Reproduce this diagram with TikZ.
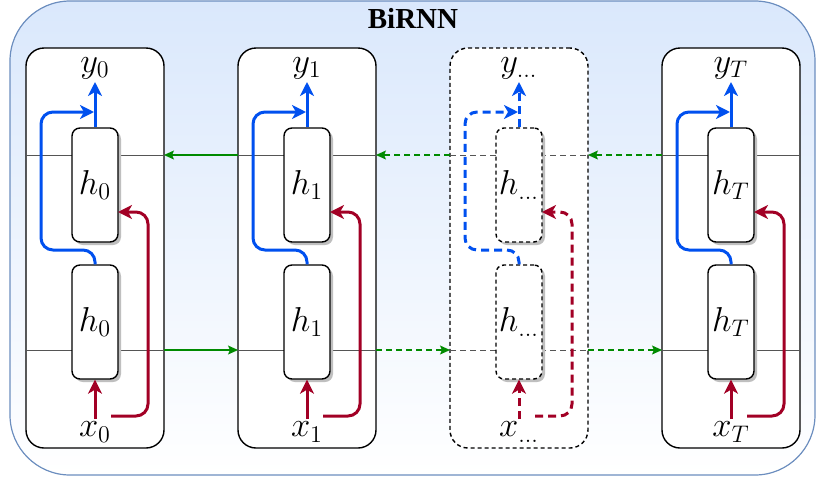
\documentclass[tikz,border=0pt]{standalone}
\usepackage{fontspec}
\newfontfamily\titlefont{Liberation Serif}
\usepackage{tikz}
\usetikzlibrary{positioning,arrows.meta,shadows}

\definecolor{frameblue}{HTML}{6C8EBF}
\definecolor{paleblue}{HTML}{DAE8FC}
\definecolor{outblue}{HTML}{0050EF}
\definecolor{inred}{HTML}{A20025}
\definecolor{timegreen}{HTML}{008A00}
\definecolor{wire}{HTML}{555555}

\begin{document}
\begin{tikzpicture}[x=0.5pt, y=-0.5pt,
	frame/.style={draw=frameblue, line width=0.6pt, rounded corners=30pt, top color=paleblue, bottom color=white},
	cellbox/.style={draw, line width=0.7pt, rounded corners=9pt, fill=white, minimum width=69pt, minimum height=200pt, inner sep=0pt},
	hbox/.style={draw, line width=0.7pt, rounded corners=4pt, fill=white, minimum width=23pt, minimum height=57pt, inner sep=0pt, font=\LARGE,
		drop shadow={shadow xshift=1.5pt, shadow yshift=-1.5pt, fill=black!25, opacity=1}},
	lbl/.style={font=\LARGE, inner sep=1pt},
	wireline/.style={draw=wire, line width=0.5pt},
	outflow/.style={draw=outblue, line width=1.5pt, rounded corners=6pt, -{Stealth[length=7pt, width=7pt, inset=2pt]}},
	inflow/.style={draw=inred, line width=1.5pt, rounded corners=6pt, -{Stealth[length=7pt, width=7pt, inset=2pt]}},
	timeflow/.style={draw=timegreen, line width=0.6pt, -{Stealth[length=5pt, width=4.5pt, inset=1pt]}},
	plain box/.style={},
	dots box/.style={dash pattern=on 2pt off 1.5pt},
	plain wire/.style={},
	dots wire/.style={dash pattern=on 3pt off 2pt},
	plain flow/.style={},
	dots flow/.style={dash pattern=on 4pt off 2.5pt},
	]

	\useasboundingbox (0,0) rectangle (816,483);

	% outer container
	\path[frame] (10,1) rectangle (815,475);
	\node (title) at (413,18) {\fontsize{14.5}{17}\selectfont\titlefont\bfseries BiRNN};

	% one column per time step
	\foreach \i/\sub/\lk in {0/0/plain, 1/1/plain, 2/\dots/dots, 3/T/plain} {
		\begin{scope}[xshift=\i*106pt]
			\node (cell\i) [cellbox, \lk\space box] at (95,248) {};
			\coordinate (tl\i) at (26,155);
			\coordinate (tr\i) at (164,155);
			\coordinate (bl\i) at (26,350);
			\coordinate (br\i) at (164,350);
			\draw[wireline, \lk\space wire] (tl\i) -- (tr\i);
			\draw[wireline, \lk\space wire] (bl\i) -- (br\i);
			\node (htop\i) [hbox, \lk\space box] at (95,185) {$h_{\sub}$};
			\node (hbot\i) [hbox, \lk\space box] at (95,322) {$h_{\sub}$};
			\node (y\i) [lbl] at (95,68) {$y_{\sub}$};
			\node (x\i) [lbl] at (95,432) {$x_{\sub}$};
			\coordinate (xs\i) at (95,419);
			\coordinate (xe\i) at (111,416);
			% output path
			\draw[outflow, \lk\space flow] (htop\i.north) -- (95,82);
			\draw[outflow, \lk\space flow] (hbot\i.north) -- (95,250) -- (41,250) -- (41,112) -- (94,112);
			% input path
			\draw[inflow, \lk\space flow] (xs\i) -- (hbot\i.south);
			\draw[inflow, \lk\space flow] (xe\i) -- (148,416) -- (148,212) -- (118,212);
		\end{scope}
	}

	% forward and backward connections
	\draw[timeflow] (br0) -- (bl1);
	\draw[timeflow, dots wire] (br1) -- (bl2);
	\draw[timeflow, dots wire] (br2) -- (bl3);
	\draw[timeflow] (tl1) -- (tr0);
	\draw[timeflow, dots wire] (tl2) -- (tr1);
	\draw[timeflow, dots wire] (tl3) -- (tr2);

\end{tikzpicture}
\end{document}
